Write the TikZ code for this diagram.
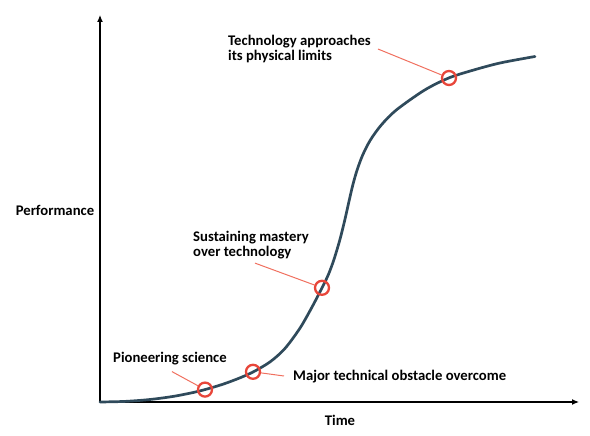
\documentclass[tikz,border=0pt]{standalone}
\usepackage{fontspec}
\setmainfont{Carlito}
\usetikzlibrary{arrows.meta}
\definecolor{curvecol}{HTML}{2F4A5B}
\definecolor{ringcol}{HTML}{E8463A}
\definecolor{leadcol}{HTML}{F0705F}
\tikzset{
  ring/.style={circle,draw=ringcol,line width=2.3pt,minimum size=14pt,inner sep=0pt},
  lbl/.style={font=\bfseries\fontsize{14.7}{15}\selectfont,align=left,inner sep=0pt},
  leader/.style={draw=leadcol,line width=1pt},
  axis/.style={line width=1.2pt,-{Latex[length=7pt,width=6pt]}}
}
\begin{document}
\begin{tikzpicture}[x=1pt,y=-1pt]
  \useasboundingbox (0,0) rectangle (590,436);
  % axes
  \coordinate (o) at (100,402);
  \coordinate (ytop) at (100,15);
  \coordinate (xend) at (579,402);
  \draw[axis] (o) -- (ytop);
  \draw[axis] (o) -- (xend);
  \node[lbl] (perf) at (55,210) {Performance};
  \node[lbl] (time) at (340,420) {Time};
  % s-curve
  \draw[curvecol,line width=2.7pt,line cap=round] plot[smooth,tension=0.5] coordinates {
    (100,402) (125,401.4) (150,399.5) (175,396.1) (200,390.9) (225,383.5)
    (250,373.5) (270,361.9) (285,348.4) (300,328.1) (312,307.1) (322,287.8)
    (328.2,275) (333.8,260) (339.8,240) (344.8,220) (349.3,200) (352.8,185)
    (357.1,170) (362.7,155) (370.4,140) (381.3,125) (396.3,110) (424.7,90)
    (448.7,78) (472,70.5) (500,63) (535,56.5)};
  % rings on the curve
  \node[ring] (c1) at (205,389.6) {};
  \node[ring] (c2) at (253,371.8) {};
  \node[ring] (c3) at (322,287.8) {};
  \node[ring] (c4) at (449,78) {};
  % labels
  \node[lbl,anchor=west] (pion) at (113,359) {Pioneering science};
  \node[lbl,anchor=west] (major) at (293,377) {Major technical obstacle overcome};
  \node[lbl,anchor=west] (sust) at (193,245) {Sustaining mastery\\over technology};
  \node[lbl,anchor=west] (tech) at (228,49) {Technology approaches\\its physical limits};
  % leaders
  \draw[leader] ([xshift=2pt,yshift=-6pt]pion.south) -- (c1);
  \draw[leader] ([xshift=-9pt,yshift=1pt]major.west) -- (c2);
  \draw[leader] ([xshift=4pt,yshift=-4pt]sust.south) -- (c3);
  \draw[leader] ([xshift=7pt]tech.east) -- (c4);
\end{tikzpicture}
\end{document}
